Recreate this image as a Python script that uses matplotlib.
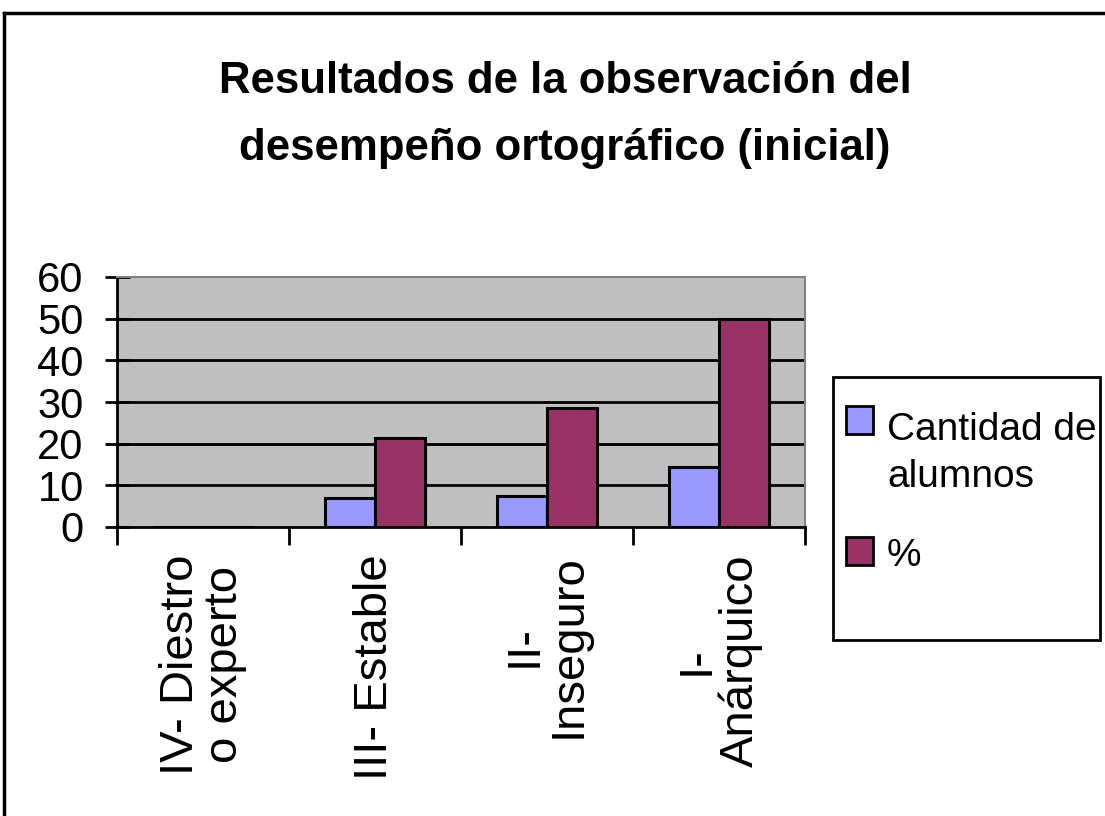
import matplotlib
matplotlib.use("Agg")
import matplotlib.pyplot as plt
from matplotlib.patches import Rectangle
from matplotlib.lines import Line2D
import numpy as np

# Data
categories = ["IV- Diestro\no experto", "III- Estable", "II-\nInseguro", "I-\nAnárquico"]
cantidad = [0, 7, 7.5, 14.5]
porcentaje = [0, 21.4, 28.6, 50]
series_names = ["Cantidad de\nalumnos", "%"]
series_colors = ["#9999FF", "#993366"]
yticks = [0, 10, 20, 30, 40, 50, 60]
title_lines = ["Resultados de la observación del", "desempeño ortográfico (inicial)"]

plt.rcParams["font.family"] = ["Liberation Sans", "DejaVu Sans"]

W, H = 1105, 816
fig = plt.figure(figsize=(W / 100, H / 100), dpi=100)
fig.patch.set_facecolor("white")

def fx(px):
    return px / W

def fy(py):
    return 1 - py / H

# outer chart border (only top and left visible)
fig.add_artist(Line2D([fx(4), 1], [fy(13), fy(13)], color="black", lw=2.5))
fig.add_artist(Line2D([fx(4), fx(4)], [0, fy(13)], color="black", lw=2.5))

# plot area
ax = fig.add_axes([fx(117), fy(527), fx(805 - 117), (527 - 277) / H])
ax.set_facecolor("#C0C0C0")

x = np.arange(len(categories))
bw = 0.29
ax.bar(x - bw / 2, cantidad, bw, color=series_colors[0], edgecolor="black", linewidth=2.2, zorder=3)
ax.bar(x + bw / 2, porcentaje, bw, color=series_colors[1], edgecolor="black", linewidth=2.2, zorder=3)

ax.set_xlim(-0.5, len(categories) - 0.5)
ax.set_ylim(0, 60)
for v in yticks[1:-1]:
    ax.axhline(v, color="black", lw=2, zorder=1)

ax.set_yticks(yticks)
ax.set_yticklabels([str(v) for v in yticks], fontsize=30)
ax.tick_params(axis="y", direction="inout", length=18, width=2, pad=15)

ax.set_xticks(np.arange(len(categories) + 1) - 0.5)
ax.set_xticklabels([])
ax.tick_params(axis="x", direction="out", length=13, width=2)

for side in ["left", "bottom"]:
    ax.spines[side].set_color("black")
    ax.spines[side].set_linewidth(2)
for side in ["top", "right"]:
    ax.spines[side].set_color("#808080")
    ax.spines[side].set_linewidth(1.5)

for i, lab in enumerate(categories):
    ax.text(i, -0.11, lab, transform=ax.get_xaxis_transform(), rotation=90,
            ha="center", va="top", multialignment="center", fontsize=34,
            linespacing=1.0)

# title
fig.text(fx(565), fy(93), title_lines[0], ha="center", va="baseline",
         fontsize=31.5, fontweight="bold")
fig.text(fx(565), fy(160), title_lines[1], ha="center", va="baseline",
         fontsize=31.5, fontweight="bold")

# legend
fig.add_artist(Rectangle((fx(833), fy(640)), fx(1100 - 833), (640 - 377) / H,
                         transform=fig.transFigure, facecolor="white", edgecolor="black", lw=2))
handle_top = [406, 537]
text_base = [487, 566]
for name, col, ty, tb in zip(series_names, series_colors, handle_top, text_base):
    fig.add_artist(Rectangle((fx(846), fy(ty + 28)), fx(27), 28 / H, transform=fig.transFigure,
                             facecolor=col, edgecolor="black", lw=2))
    fig.text(fx(887), fy(tb), name, ha="left", va="baseline", fontsize=28,
             linespacing=1.4)

fig.savefig("out.png", dpi=100)
